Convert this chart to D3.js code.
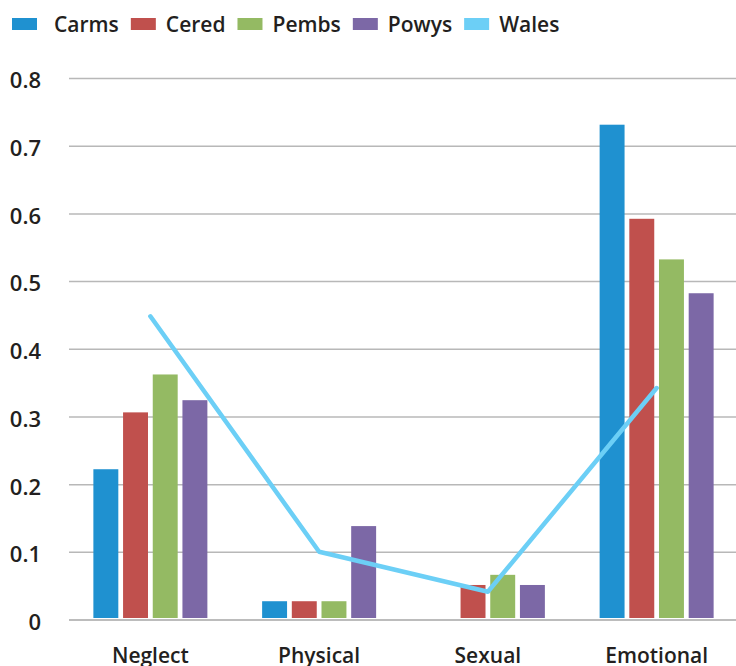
<!DOCTYPE html>
<html>
<head>
<meta charset="utf-8">
<script src="https://cdn.jsdelivr.net/npm/d3@7"></script>
<style>
  body { margin: 0; background: #fff; }
  svg { display: block; font-family: "Open Sans", sans-serif; }
</style>
</head>
<body>
<svg id="drawing_region"></svg>
<script>
const categories = ["Neglect", "Physical", "Sexual", "Emotional"];
const series = ["Carms", "Cered", "Pembs", "Powys"];
const carms = [0.222, 0.027, 0, 0.731];
const cered = [0.306, 0.027, 0.051, 0.592];
const pembs = [0.362, 0.027, 0.066, 0.532];
const powys = [0.324, 0.138, 0.051, 0.482];
const wales = [0.448, 0.100, 0.041, 0.342];
const yticks = [0, 0.1, 0.2, 0.3, 0.4, 0.5, 0.6, 0.7, 0.8];
const colors = { Carms: "#1f91d0", Cered: "#c0504d", Pembs: "#94ba63", Powys: "#7c68a6", Wales: "#6ccff6" };

const values = { Carms: carms, Cered: cered, Pembs: pembs, Powys: powys };
const data = [];
categories.forEach((c, i) => {
    series.forEach(s => data.push({ cat: c, name: s, value: values[s][i] }));
});

const width = 736, height = 666;
const svg = d3.select('#drawing_region')
    .attr('width', width)
    .attr('height', height);

// scales
const xscale = d3.scaleBand()
    .domain(categories)
    .range([66, 741]);

const groupWidth = 114;
const xsub = d3.scaleBand()
    .domain(series)
    .range([0, groupWidth])
    .paddingInner(0.16);
const groupOffset = (xscale.bandwidth() - groupWidth) / 2;

const yscale = d3.scaleLinear()
    .domain([0, 0.8])
    .range([619.5, 78]);

// gridlines + y labels
const yaxis = d3.axisLeft(yscale)
    .tickValues(yticks)
    .tickFormat(d => d === 0 ? "0" : d3.format(".1f")(d))
    .tickSize(-(width - 69))
    .tickPadding(28);

const yaxis_group = svg.append('g')
    .attr('transform', `translate(69, 0)`)
    .call(yaxis);
yaxis_group.select('.domain').remove();
yaxis_group.selectAll('.tick line')
    .attr('stroke', d => d === 0 ? '#a6a6a6' : '#b8b8b8')
    .attr('stroke-width', 1.5)
    .attr('x1', 0)
    .attr('x2', width - 69);
yaxis_group.selectAll('.tick text')
    .attr('fill', '#231f20')
    .attr('font-size', '22px')
    .attr('font-weight', 600)
    .attr('font-family', '"Open Sans", sans-serif')
    .attr('dy', '0.45em');

// bars
svg.append('g').selectAll('rect').data(data).enter()
    .append('rect')
    .attr('x', d => xscale(d.cat) + groupOffset + xsub(d.name))
    .attr('y', d => yscale(d.value))
    .attr('width', xsub.bandwidth())
    .attr('height', d => yscale(0) - 1.5 - yscale(d.value))
    .attr('fill', d => colors[d.name]);

// wales line
const line = d3.line()
    .x((d, i) => xscale(categories[i]) + xscale.bandwidth() / 2)
    .y(d => yscale(d));

svg.append('path')
    .datum(wales)
    .attr('d', line)
    .attr('fill', 'none')
    .attr('stroke', colors.Wales)
    .attr('stroke-width', 4.5)
    .attr('stroke-linecap', 'round')
    .attr('stroke-linejoin', 'round');

// category labels
svg.append('g').selectAll('text').data(categories).enter()
    .append('text')
    .attr('x', d => xscale(d) + xscale.bandwidth() / 2)
    .attr('y', 663)
    .attr('text-anchor', 'middle')
    .attr('font-size', '21px')
    .attr('font-weight', 600)
    .attr('fill', '#231f20')
    .text(d => d);

// legend
const legendItems = series.concat(["Wales"]);
const legend = svg.append('g');
let lx = 12;
legendItems.forEach(name => {
    legend.append('rect')
        .attr('x', lx)
        .attr('y', 18)
        .attr('width', 25)
        .attr('height', 12)
        .attr('fill', colors[name]);
    const t = legend.append('text')
        .attr('x', lx + 25 + 17 - (name === "Carms" ? 0 : 7))
        .attr('y', 32)
        .attr('font-size', '21px')
        .attr('font-weight', 600)
        .attr('fill', '#231f20')
        .text(name);
    const tx = +t.attr('x');
    lx = tx + t.node().getComputedTextLength() + 12;
});
</script>
</body>
</html>
